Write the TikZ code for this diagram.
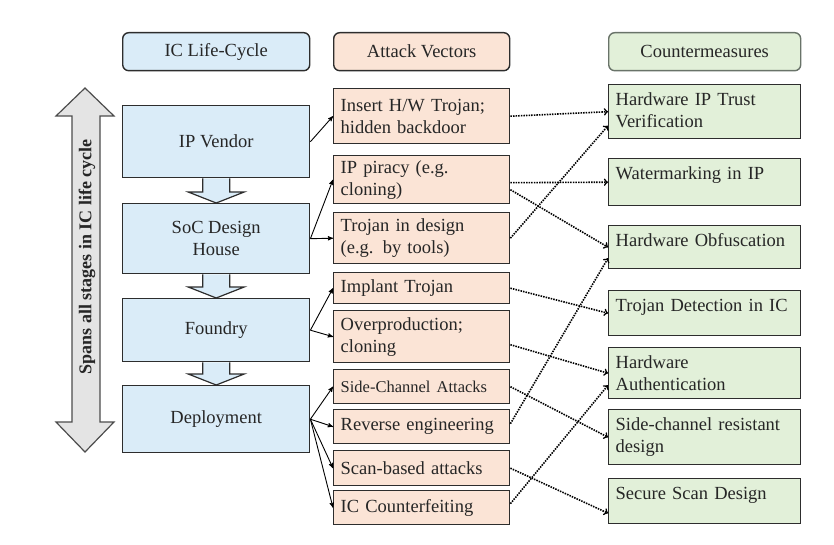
\documentclass[tikz,border=0pt]{standalone}
\usepackage{fontspec}
\setmainfont{Liberation Serif}
\usetikzlibrary{arrows}
\definecolor{lcblue}{RGB}{218,236,248}
\definecolor{avpeach}{RGB}{251,228,214}
\definecolor{cmgreen}{RGB}{226,240,217}
\definecolor{boxline}{RGB}{45,45,45}
\definecolor{cmline}{RGB}{105,115,105}
\definecolor{spangray}{RGB}{228,228,228}
\tikzset{
  box/.style = {draw=boxline, line width=1.4pt, inner xsep=7pt, inner ysep=4pt,
    anchor=north west, text=black!85, font=\rmfamily\fontsize{18.5}{22}\selectfont},
  hdr/.style = {box, rounded corners=6pt, minimum width=#1, minimum height=38pt,
    align=center},% column header
  lc/.style = {box, fill=lcblue, minimum width=187pt, align=center},% life-cycle stage
  av/.style = {box, fill=avpeach, text width=162pt, align=left},% attack vector
  cm/.style = {box, fill=cmgreen, text width=178pt, align=left,
    text height=17pt, text depth=#1},% countermeasure
  stage/.style = {->, >=stealth', line width=0.9pt, black},
  maps/.style = {->, >=to, line width=1.6pt, dash pattern=on 1.5pt off 1.1pt}
}

\begin{document}
\begin{tikzpicture}[x=1pt, y=-1pt]
\useasboundingbox (0,0) rectangle (834,545);

% headers
\node [hdr=187pt, fill=lcblue] (hlc) at (122,32) {IC Life-Cycle};
\node [hdr=176pt, fill=avpeach] (hav) at (333,32) {Attack Vectors};
\node [hdr=192pt, fill=cmgreen, draw=cmline] (hcm) at (608,32) {Countermeasures};

% life-cycle stages
\node [lc, minimum height=72pt] (ipv) at (122,105) {IP Vendor};
\node [lc, minimum height=70pt] (soc) at (122,203) {SoC Design\\House};
\node [lc, minimum height=63pt] (fdy) at (122,298) {Foundry};
\node [lc, minimum height=67pt] (dep) at (122,385) {Deployment};

% attack vectors
\node [av, minimum height=55pt] (ins) at (333,88) {Insert H/W Trojan;\\hidden backdoor};
\node [av, minimum height=48pt] (pir) at (333,155) {IP piracy (e.g.\\cloning)};
\node [av, minimum height=51pt] (tds) at (333,212) {Trojan in design\\(e.g. by tools)};
\node [av, minimum height=31pt] (imp) at (333,272) {Implant Trojan};
\node [av, minimum height=52pt] (ovp) at (333,310) {Overproduction;\\cloning};
\node [av, minimum height=34pt] (sca) at (333,369) {\fontsize{16.5}{20}\selectfont Side-Channel Attacks};
\node [av, minimum height=34pt] (rev) at (333,409) {Reverse engineering};
\node [av, minimum height=35pt] (scn) at (333,450) {Scan-based attacks};
\node [av, minimum height=34pt] (cnt) at (333,490) {IC Counterfeiting};

% countermeasures
\node [cm=29pt] (tru) at (608,84) {Hardware IP Trust\\Verification};
\node [cm=22pt] (wmk) at (608,158) {Watermarking in IP};
\node [cm=18pt] (obf) at (608,225) {Hardware Obfuscation};
\node [cm=20pt] (tdt) at (608,290) {Trojan Detection in IC};
\node [cm=26pt] (aut) at (608,347) {Hardware\\Authentication};
\node [cm=30pt] (scr) at (608,409) {Side-channel resistant\\design};
\node [cm=20pt] (ssd) at (608,478) {Secure Scan Design};

% flow between stages
\foreach \a/\b in {ipv/soc, soc/fdy, fdy/dep}{
  \draw [fill=lcblue, draw=boxline, line width=1.2pt]
    ([xshift=-13.5pt]\a.south) -- ([xshift=-13.5pt, yshift=11pt]\b.north)
    -- ([xshift=-28pt, yshift=11pt]\b.north) -- (\b.north)
    -- ([xshift=28pt, yshift=11pt]\b.north) -- ([xshift=13.5pt, yshift=11pt]\b.north)
    -- ([xshift=13.5pt]\a.south);
}

% span arrow
\draw [fill=spangray, draw=black!70, line width=1.2pt]
  (85,88) -- (114,116) -- (100,116) -- (100,422) -- (114,422) -- (85,452)
  -- (56,422) -- (72,422) -- (72,116) -- (56,116) -- cycle;
\node [rotate=90, font=\rmfamily\fontsize{18}{22}\selectfont\bfseries, text=black!85] (span)
  at (87,257) {Spans all stages in IC life cycle};

% stage -> attack
\draw [stage] (ipv.east) -- (ins.west);
\draw [stage] (soc.east) -- (pir.west);
\draw [stage] (soc.east) -- (tds.west);
\draw [stage] (fdy.east) -- (imp.west);
\draw [stage] (fdy.east) -- (ovp.west);
\draw [stage] (dep.east) -- (sca.west);
\draw [stage] (dep.east) -- (rev.west);
\draw [stage] (dep.east) -- (scn.west);
\draw [stage] (dep.east) -- (cnt.west);

% attack -> countermeasure
\draw [maps] (ins.east) -- (tru.west);
\draw [maps] ([yshift=-3pt]pir.east) -- (wmk.west);
\draw [maps] ([yshift=-10pt]pir.east) -- (obf.west);
\draw [maps] (tds.east) -- ([yshift=-14pt]tru.west);
\draw [maps] (imp.east) -- (tdt.west);
\draw [maps] ([yshift=-8pt]ovp.east) -- (aut.west);
\draw [maps] ([yshift=3pt]rev.east) -- ([yshift=-11pt]obf.west);
\draw [maps] (sca.east) -- (scr.west);
\draw [maps] ([yshift=4pt]cnt.east) -- ([yshift=-12pt]aut.west);
\draw [maps] (scn.east) -- ([yshift=-12pt]ssd.west);
\end{tikzpicture}
\end{document}
